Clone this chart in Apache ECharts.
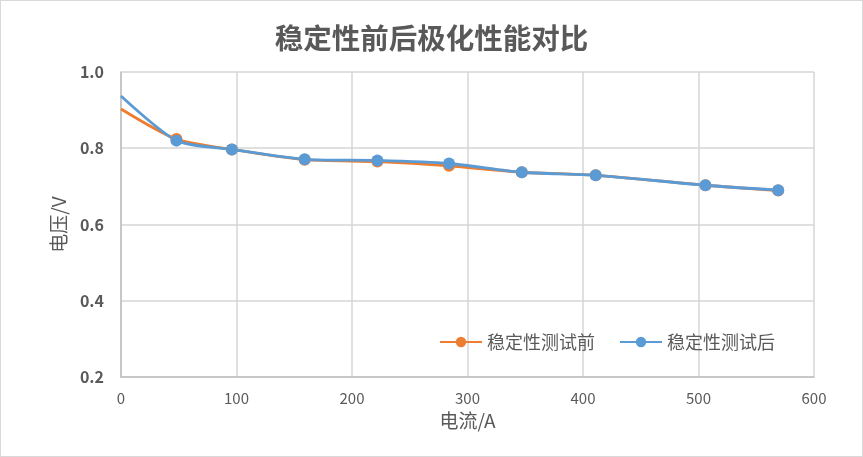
<!DOCTYPE html>
<html><head><meta charset="utf-8">
<script src="https://cdn.jsdelivr.net/npm/echarts@6/dist/echarts.min.js"></script>
<style>html,body{margin:0;padding:0;background:#fff}#c{width:863px;height:457px;box-sizing:border-box;border:1px solid #d9d9d9}</style>
</head><body><div id="c"></div>
<script>
const title = '稳定性前后极化性能对比';
const seriesNames = ['稳定性测试前', '稳定性测试后'];
const currentBefore = [0, 48, 96, 159, 222, 284, 347, 411, 506, 569];
const voltageBefore = [0.903, 0.824, 0.797, 0.770, 0.765, 0.754, 0.737, 0.729, 0.703, 0.689];
const currentAfter = [0, 48, 96, 159, 222, 284, 347, 411, 506, 569];
const voltageAfter = [0.937, 0.820, 0.797, 0.771, 0.768, 0.760, 0.737, 0.729, 0.703, 0.690];
const xName = '电流/A';
const yName = '电压/V';

function pts(xs, ys) {
  return xs.map((x, i) => i === 0 ? {value: [x, ys[i]], symbolSize: 0} : [x, ys[i]]);
}
const font = '"Noto Sans CJK SC", "Noto Sans", sans-serif';
const chart = echarts.init(document.getElementById('c'));
chart.setOption({
  animation: false,
  textStyle: {fontFamily: font},
  title: {text: title, left: 'center', top: 18, textStyle: {fontSize: 28.5, fontWeight: 'bold', color: '#595959', fontFamily: font}},
  grid: {left: 120, right: 48, top: 71, bottom: 79, containLabel: false},
  legend: {
    data: seriesNames, right: 82, top: 327, itemWidth: 42, itemHeight: 13, itemGap: 24,
    textStyle: {fontSize: 18, color: '#595959'}
  },
  xAxis: {
    type: 'value', min: 0, max: 600, interval: 100,
    name: xName, nameLocation: 'middle', nameGap: 34, nameTextStyle: {fontSize: 19, color: '#595959'},
    axisLine: {show: true, lineStyle: {color: '#bfbfbf', width: 1.5}},
    axisTick: {show: false},
    axisLabel: {fontSize: 15, color: '#595959', margin: 14},
    splitLine: {show: true, lineStyle: {color: '#d6d6d6', width: 1.5}}
  },
  yAxis: {
    type: 'value', min: 0.2, max: 1.0, interval: 0.2,
    name: yName, nameLocation: 'middle', nameGap: 53, nameRotate: 90, nameTextStyle: {fontSize: 19, color: '#595959'},
    axisLine: {show: true, lineStyle: {color: '#bfbfbf', width: 1.5}},
    axisTick: {show: false},
    axisLabel: {fontSize: 16, color: '#595959', fontWeight: 'bold', margin: 17, formatter: v => v.toFixed(1)},
    splitLine: {show: true, lineStyle: {color: '#d6d6d6', width: 1.5}}
  },
  series: [
    {name: seriesNames[0], type: 'line', smooth: 0.25, data: pts(currentBefore, voltageBefore),
     symbol: 'circle', symbolSize: 12, lineStyle: {width: 2.8, color: '#ED7D31'}, itemStyle: {color: '#ED7D31'}},
    {name: seriesNames[1], type: 'line', smooth: 0.25, data: pts(currentAfter, voltageAfter),
     symbol: 'circle', symbolSize: 12, lineStyle: {width: 2.8, color: '#5B9BD5'}, itemStyle: {color: '#5B9BD5'}}
  ]
});
</script></body></html>
